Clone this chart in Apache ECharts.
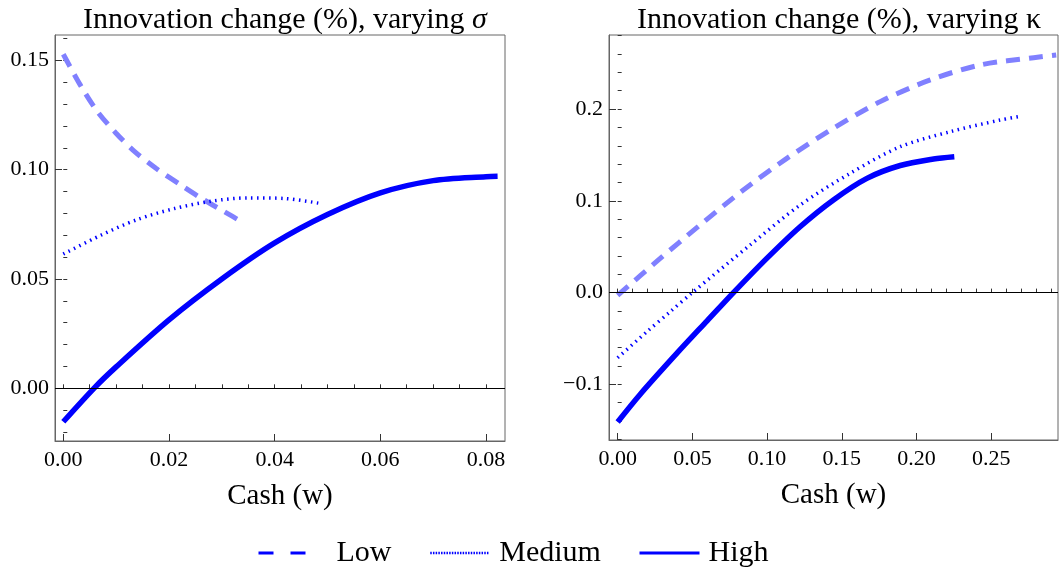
<!DOCTYPE html>
<html>
<head>
<meta charset="utf-8">
<script src="https://cdn.jsdelivr.net/npm/echarts@6/dist/echarts.min.js"></script>
<style>
html,body{margin:0;padding:0;background:#fff;}
#chart{width:1059px;height:567px;}
</style>
</head>
<body>
<div id="chart"></div>
<script>
// ---------- Data (left panel: varying sigma) ----------
const sigmaLowX  = [0, 0.0032, 0.0064, 0.0099, 0.0134, 0.0176, 0.0221, 0.0262, 0.0307, 0.0336];
const sigmaLowY  = [0.1528, 0.1388, 0.1268, 0.1169, 0.1085, 0.1005, 0.0932, 0.0868, 0.0805, 0.0764];
const sigmaMedX  = [0, 0.007, 0.014, 0.021, 0.028, 0.035, 0.042, 0.049];
const sigmaMedY  = [0.0614, 0.0699, 0.0772, 0.0822, 0.0856, 0.0871, 0.0868, 0.0844];
const sigmaHighX = [0, 0.0058, 0.01, 0.02, 0.03, 0.04, 0.05, 0.06, 0.07, 0.08, 0.0822];
const sigmaHighY = [-0.0153, 0, 0.0098, 0.0313, 0.0500, 0.0665, 0.0795, 0.0894, 0.0950, 0.0968, 0.0970];

// ---------- Data (right panel: varying kappa) ----------
const kappaLowX  = [0, 0.0271, 0.0551, 0.0841, 0.1132, 0.1444, 0.1757, 0.2092, 0.2427, 0.2784, 0.2935];
const kappaLowY  = [-0.003, 0.0353, 0.0736, 0.1118, 0.1463, 0.1790, 0.2081, 0.2317, 0.2481, 0.2560, 0.2588];
const kappaMedX  = [0, 0.02, 0.035, 0.05, 0.0886, 0.1221, 0.1556, 0.1891, 0.2226, 0.2561, 0.2683];
const kappaMedY  = [-0.071, -0.042, -0.021, 0.0, 0.0518, 0.0954, 0.1300, 0.1590, 0.1754, 0.1881, 0.1917];
const kappaHighX = [0, 0.015, 0.04, 0.06, 0.0775, 0.0998, 0.1221, 0.1444, 0.1668, 0.1891, 0.2114, 0.2253];
const kappaHighY = [-0.141, -0.111, -0.0655, -0.0305, 0, 0.0373, 0.0718, 0.1010, 0.1245, 0.1385, 0.1456, 0.1481];

// ---------- Tick labels ----------
const sigmaXTicks  = [0, 0.02, 0.04, 0.06, 0.08];
const sigmaXLabels = ['0.00', '0.02', '0.04', '0.06', '0.08'];
const sigmaYTicks  = [0, 0.05, 0.10, 0.15];
const sigmaYLabels = ['0.00', '0.05', '0.10', '0.15'];
const kappaXTicks  = [0, 0.05, 0.10, 0.15, 0.20, 0.25];
const kappaXLabels = ['0.00', '0.05', '0.10', '0.15', '0.20', '0.25'];
const kappaYTicks  = [-0.1, 0, 0.1, 0.2];
const kappaYLabels = ['\u22120.1', '0.0', '0.1', '0.2'];

const seriesNames = ['Low', 'Medium', 'High'];
const titles = ['Innovation change (%), varying ', 'Innovation change (%), varying \u03ba'];
const axisName = 'Cash (w)';

// ---------- helpers ----------
const FONT = "'Liberation Serif', 'DejaVu Serif', serif";
function pairs(xs, ys) { return xs.map((x, i) => [x, ys[i]]); }
function steps(a, b, s) { const out = []; const n = Math.round((b - a) / s); for (let i = 0; i <= n; i++) out.push(+(a + i * s).toFixed(6)); return out; }
function fmt(vals, labels) {
  return function (v) {
    let best = 0, d = Infinity;
    vals.forEach((t, i) => { const dd = Math.abs(t - v); if (dd < d) { d = dd; best = i; } });
    return labels[best];
  };
}

const grids = [
  { left: 55, top: 35, width: 450, height: 406 },
  { left: 609, top: 35, width: 449, height: 405 }
];
const xr = [[-0.00157, 0.0836], [-0.0058, 0.2947]];
const yr = [[-0.0241, 0.1616], [-0.1606, 0.2807]];
const xMajor = [sigmaXTicks, kappaXTicks], xLab = [sigmaXLabels, kappaXLabels];
const yMajor = [sigmaYTicks, kappaYTicks], yLab = [sigmaYLabels, kappaYLabels];
const xMinor = [steps(0, 0.08, 0.005), steps(0, 0.29, 0.01)];
const yMinor = [steps(-0.02, 0.16, 0.01), steps(-0.16, 0.28, 0.02)];

const xAxes = [], yAxes = [];
for (let g = 0; g < 2; g++) {
  xAxes.push({
    type: 'value', gridIndex: g, min: xr[g][0], max: xr[g][1],
    name: axisName, nameLocation: 'middle', nameGap: 41,
    nameTextStyle: { fontFamily: FONT, fontSize: 29, color: '#000' },
    axisLine: { show: true, onZero: false, lineStyle: { color: '#666', width: 1 } },
    splitLine: { show: false },
    axisTick: { show: true, inside: true, length: 7, customValues: xMajor[g], lineStyle: { color: '#333' } },
    axisLabel: { show: true, customValues: xMajor[g], formatter: fmt(xMajor[g], xLab[g]), fontFamily: FONT, fontSize: 22, color: '#000', margin: 8 }
  });
  xAxes.push({
    type: 'value', gridIndex: g, min: xr[g][0], max: xr[g][1], position: 'bottom',
    axisLine: { show: false }, splitLine: { show: false }, axisLabel: { show: false },
    axisTick: { show: true, inside: true, length: 4, customValues: xMinor[g], lineStyle: { color: '#333' } }
  });
  yAxes.push({
    type: 'value', gridIndex: g, min: yr[g][0], max: yr[g][1],
    axisLine: { show: true, onZero: false, lineStyle: { color: '#666', width: 1 } },
    splitLine: { show: false },
    axisTick: { show: true, inside: true, length: 7, customValues: yMajor[g], lineStyle: { color: '#333' } },
    axisLabel: { show: true, customValues: yMajor[g], formatter: fmt(yMajor[g], yLab[g]), fontFamily: FONT, fontSize: 22, color: '#000', margin: 6 }
  });
  yAxes.push({
    type: 'value', gridIndex: g, min: yr[g][0], max: yr[g][1], position: 'left',
    axisLine: { show: false }, splitLine: { show: false }, axisLabel: { show: false },
    axisTick: { show: true, inside: true, length: 4, customValues: yMinor[g], lineStyle: { color: '#333' } }
  });
}

const styles = {
  Low: { color: '#8080ff', width: 5, type: [14, 9], cap: 'butt' },
  Medium: { color: '#0000ff', width: 3.5, type: [1.5, 4.5], cap: 'butt' },
  High: { color: '#0000ff', width: 5.5, type: 'solid', cap: 'butt' }
};
const panelData = [
  { Low: pairs(sigmaLowX, sigmaLowY), Medium: pairs(sigmaMedX, sigmaMedY), High: pairs(sigmaHighX, sigmaHighY) },
  { Low: pairs(kappaLowX, kappaLowY), Medium: pairs(kappaMedX, kappaMedY), High: pairs(kappaHighX, kappaHighY) }
];
const series = [];
for (let g = 0; g < 2; g++) {
  seriesNames.forEach((n, k) => {
    const s = {
      type: 'line', name: n, xAxisIndex: g * 2, yAxisIndex: g * 2,
      data: panelData[g][n], smooth: 0.3, symbol: 'none', showSymbol: false,
      color: styles[n].color,
      lineStyle: { color: styles[n].color, width: styles[n].width, type: styles[n].type, cap: styles[n].cap },
      silent: true, animation: false, z: 3
    };
    if (k === 0) {
      s.markLine = {
        silent: true, symbol: 'none', label: { show: false }, animation: false,
        lineStyle: { color: '#000', width: 1, type: 'solid' },
        data: [{ yAxis: 0 }]
      };
    }
    series.push(s);
  });
}

const legendText = { fontFamily: FONT, fontSize: 30, color: '#000' };
const noSymbol = { opacity: 0, borderWidth: 0 };
const option = {
  backgroundColor: '#fff',
  animation: false,
  title: [
    {
      text: '{a|' + titles[0] + '}{b|\u03c3}', left: 280, top: 0, textAlign: 'center',
      textStyle: {
        fontWeight: 'normal', fontFamily: FONT, fontSize: 30,
        rich: {
          a: { fontFamily: FONT, fontSize: 30, fontWeight: 'normal', color: '#000' },
          b: { fontFamily: FONT, fontSize: 30, fontWeight: 'normal', fontStyle: 'italic', color: '#000' }
        }
      }
    },
    {
      text: titles[1], left: 834, top: 0, textAlign: 'center',
      textStyle: { fontFamily: FONT, fontSize: 30, fontWeight: 'normal', color: '#000' }
    }
  ],
  grid: grids.map(g => Object.assign({ show: true, borderColor: '#666', borderWidth: 1, backgroundColor: 'transparent' }, g)),
  xAxis: xAxes,
  yAxis: yAxes,
  legend: [
    { data: ['Low'], left: 252, top: 533, itemWidth: 47, itemHeight: 14, selectedMode: false,
      itemStyle: noSymbol,
      lineStyle: { color: '#0000ff', width: 3, type: [15, 17, 15, 100] },
      textStyle: Object.assign({ padding: [0, 0, 0, 26] }, legendText) },
    { data: ['Medium'], left: 424, top: 533, itemWidth: 59, itemHeight: 14, selectedMode: false,
      itemStyle: noSymbol,
      lineStyle: { color: '#0000ff', width: 2.5, type: [1.5, 1.2] },
      textStyle: Object.assign({ padding: [0, 0, 0, 5] }, legendText) },
    { data: ['High'], left: 633, top: 533, itemWidth: 60, itemHeight: 14, selectedMode: false,
      itemStyle: noSymbol,
      lineStyle: { color: '#0000ff', width: 3, type: 'solid' },
      textStyle: Object.assign({ padding: [0, 0, 0, 4] }, legendText) }
  ],
  series: series
};

const chart = echarts.init(document.getElementById('chart'), null, { renderer: 'canvas' });
chart.setOption(option);
</script>
</body>
</html>
